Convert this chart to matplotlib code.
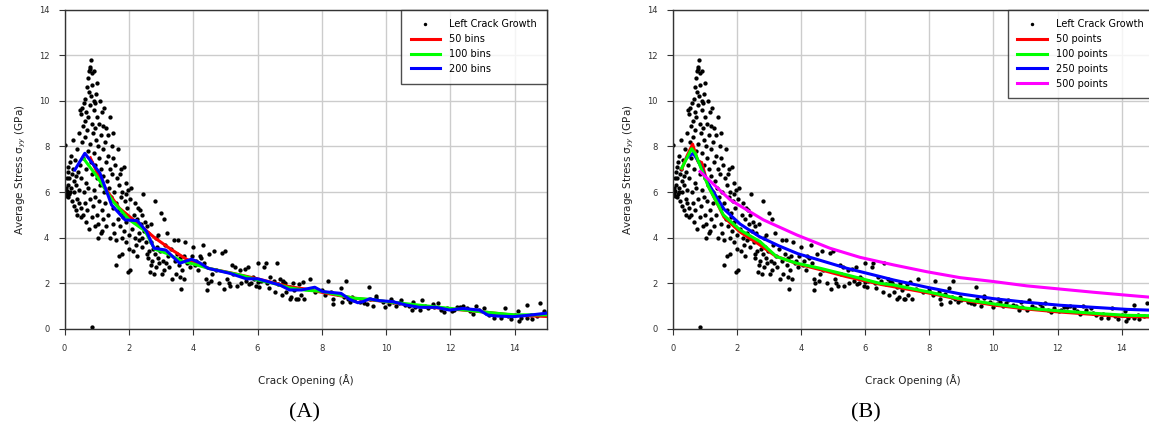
import numpy as np
import matplotlib
matplotlib.use("Agg")
import matplotlib.pyplot as plt

plt.rcParams['font.family'] = ['DejaVu Sans']

# left crack growth samples (crack opening, stress)
left_crack = [
    (0.02,8.05),(0.04,5.95),(0.06,6.05),(0.08,5.85),(0.1,6.3),(0.1,6.9),(0.12,7.1),(0.14,6.6),(0.15,5.9),
    (0.17,7.3),(0.2,6.2),(0.2,7.6),(0.22,6.8),(0.24,5.6),(0.25,8.3),(0.27,7.0),(0.28,6.5),(0.3,5.4),(0.3,6.0),
    (0.32,7.4),(0.34,6.7),(0.35,5.2),(0.36,6.3),(0.38,7.9),(0.4,5.0),(0.4,5.7),(0.42,6.9),(0.44,8.6),(0.45,5.5),
    (0.46,6.1),(0.48,9.6),(0.48,7.2),(0.5,4.9),(0.5,5.3),(0.5,6.6),(0.05,6.2),(0.12,5.8),(0.18,6.0),(0.08,6.6),
    (0.52,9.4),(0.54,8.2),(0.55,9.7),(0.56,7.5),(0.58,5.0),(0.58,8.9),(0.6,9.9),(0.6,6.0),(0.62,9.1),(0.62,5.5),
    (0.64,8.4),(0.65,10.1),(0.66,4.7),(0.66,7.0),(0.68,9.5),(0.68,6.4),(0.7,10.6),(0.7,8.7),(0.7,5.2),(0.72,11.0),
    (0.72,7.8),(0.74,9.3),(0.74,6.2),(0.75,11.3),(0.76,4.4),(0.76,10.4),(0.78,11.5),(0.78,8.1),(0.8,11.4),(0.8,9.8),
    (0.8,5.7),(0.82,11.8),(0.82,10.2),(0.82,7.3),(0.84,11.2),(0.84,9.0),(0.85,4.9),(0.86,10.7),(0.86,6.8),(0.88,8.6),
    (0.88,5.4),(0.9,11.3),(0.9,9.6),(0.9,7.7),(0.92,10.0),(0.92,6.1),(0.94,8.8),(0.94,4.5),(0.95,9.9),(0.96,7.2),
    (0.96,5.8),(0.98,10.3),(0.98,8.3),(1.0,9.3),(1.0,6.6),(1.0,5.0),(0.85,0.1),
    (1.02,10.8),(1.04,8.0),(1.05,4.6),(1.06,9.0),(1.08,7.5),(1.08,5.6),(1.1,10.0),(1.1,6.3),(1.12,8.5),(1.12,4.2),
    (1.14,7.0),(1.15,9.5),(1.16,5.2),(1.18,8.9),(1.18,6.7),(1.2,7.9),(1.2,4.8),(1.22,9.7),(1.24,6.0),(1.25,8.2),
    (1.26,5.5),(1.28,7.3),(1.3,8.8),(1.3,4.5),(1.32,6.5),(1.34,7.6),(1.35,5.0),(1.36,8.5),(1.38,6.2),(1.4,9.3),
    (1.4,7.0),(1.42,4.0),(1.44,5.8),(1.46,8.0),(1.48,6.8),(1.5,5.3),(1.5,7.5),(1.5,4.6),(1.05,4.0),(1.15,4.3),
    (1.52,8.6),(1.54,6.0),(1.55,4.2),(1.58,7.2),(1.6,5.5),(1.6,3.9),(1.62,6.6),(1.65,4.8),(1.66,7.9),(1.68,5.2),
    (1.7,6.3),(1.7,3.2),(1.72,4.5),(1.74,7.0),(1.75,5.8),(1.78,4.0),(1.8,6.0),(1.8,3.3),(1.82,5.1),(1.84,7.1),
    (1.85,4.3),(1.88,5.6),(1.9,6.4),(1.9,3.8),(1.92,4.7),(1.95,5.3),(1.96,2.5),(1.98,6.1),(2.0,4.1),(2.0,3.5),
    (1.6,2.8),(1.82,4.9),(1.72,6.8),(1.9,5.9),
    (2.02,5.7),(2.05,2.6),(2.08,6.2),(2.1,4.4),(2.12,3.4),(2.15,5.0),(2.18,4.0),(2.2,5.5),(2.22,3.7),(2.25,4.8),
    (2.28,5.3),(2.3,4.2),(2.32,3.9),(2.35,5.2),(2.38,4.6),(2.4,5.0),(2.42,3.6),(2.45,5.9),(2.48,4.3),(2.5,4.7),
    (2.52,3.8),(2.55,4.5),(2.58,3.1),(2.6,4.2),(2.62,3.4),(2.65,2.5),(2.68,3.8),(2.7,4.6),(2.72,3.0),(2.75,3.5),
    (2.78,2.4),(2.8,3.3),(2.82,5.6),(2.85,2.7),(2.88,3.6),(2.9,3.1),(2.92,4.1),(2.95,2.9),(2.98,3.4),(3.0,5.1),
    (2.25,3.2),(2.4,4.0),(2.55,3.3),(2.7,2.8),(2.85,4.0),
    (3.02,2.4),(3.05,3.0),(3.08,4.8),(3.1,2.6),(3.12,3.7),(3.15,2.9),(3.2,4.2),(3.22,3.2),(3.25,2.7),(3.3,3.5),
    (3.35,2.2),(3.4,3.9),(3.42,3.0),(3.45,2.4),(3.5,3.3),(3.52,3.9),(3.55,2.8),(3.58,2.3),(3.6,3.1),(3.62,1.75),
    (3.65,2.6),(3.7,3.2),(3.72,2.2),(3.75,3.8),(3.8,2.9),(3.85,3.0),(3.9,2.7),(3.95,3.2),(4.0,3.6),(4.05,2.8),
    (4.1,3.0),(4.15,2.6),(4.2,3.2),(4.25,3.1),(4.3,3.7),(4.35,2.9),(4.4,2.2),(4.42,1.7),(4.45,2.0),(4.5,3.3),
    (4.55,2.1),(4.6,2.4),
    (4.65,3.4),(4.7,2.6),(4.8,2.0),(4.9,3.35),(4.95,1.75),(5.0,3.4),(5.05,2.2),(5.1,2.0),(5.15,1.9),(5.2,2.8),
    (5.25,2.4),(5.3,2.7),(5.35,1.9),(5.45,2.6),(5.5,2.0),(5.6,2.65),(5.65,2.1),(5.7,2.7),(5.75,1.95),(5.8,2.0),
    (5.9,2.2),(5.95,1.9),(6.0,2.9),(6.05,1.85),(6.1,2.1),(6.2,2.7),(6.25,2.9),(6.3,2.0),(6.35,1.8),(6.4,2.3),
    (6.5,2.1),(6.55,1.6),(6.6,2.9),(6.65,1.95),(6.7,2.2),(6.75,1.5),(6.8,2.1),(6.85,2.0),(6.9,1.6),(7.0,1.85),
    (7.05,1.4),(7.1,2.0),(7.15,1.7),(7.2,1.3),(7.3,1.95),(7.35,1.5),(7.4,2.05),(7.45,1.3),(6.0,2.05),(5.85,2.3),
    (6.78,2.07),(7.0,1.3),(7.25,1.3),(7.64,2.19),(8.19,2.12),(8.34,1.32),(8.35,1.1),(8.74,2.1),(8.6,1.8),(8.64,1.17),
    (8.88,1.2),(8.95,1.4),(9.46,1.86),(9.4,1.1),(9.6,1.0),(9.7,1.45),(9.98,0.97),(10.15,1.3),(10.3,1.0),(10.45,1.25),
    (10.8,0.85),(10.85,1.2),(11.1,1.25),(11.05,0.83),(11.45,1.1),(11.6,1.12),(11.8,0.76),(12.05,0.8),(12.3,0.97),
    (12.4,1.0),(12.7,0.67),(12.8,1.0),(13.03,0.9),(13.36,0.5),(13.57,0.5),(13.7,0.9),(13.88,0.43),(14.1,0.8),
    (14.13,0.33),(14.37,1.05),(14.37,0.5),(14.55,0.43),(14.78,1.12),(14.9,0.78),
    (7.6,1.75),(7.8,1.6),(8.0,1.7),(8.1,1.5),(8.3,1.6),(8.5,1.55),(8.7,1.4),(8.8,1.3),(9.0,1.25),(9.2,1.2),
    (9.3,1.15),(9.5,1.3),(9.7,1.35),(9.9,1.2),(10.1,1.1),(10.2,1.2),(10.4,1.15),(10.6,1.05),(10.7,1.0),(10.9,0.95),
    (11.2,1.0),(11.3,0.9),(11.5,0.95),(11.7,0.85),(11.9,0.9),(12.1,0.85),(12.2,0.95),(12.5,0.9),(12.6,0.8),
    (12.9,0.85),(13.1,0.7),(13.2,0.6),(13.4,0.65),(13.6,0.6),(13.8,0.55),(14.0,0.6),(14.2,0.5),(14.5,0.6),
    (14.7,0.55),(14.95,0.65),
]
crack_x = [p[0] for p in left_crack]
crack_y = [p[1] for p in left_crack]

# (A) binned averages
bins50_x = [0.8, 1.2, 1.7, 2.3, 2.8, 3.3, 3.8, 4.5, 5.2, 6.0, 7.0, 7.5, 8.2, 9.0, 10.0, 11.0, 12.0, 13.0, 14.0, 15.0]
bins50_y = [7.5, 6.3, 5.3, 4.6, 4.0, 3.5, 3.05, 2.65, 2.45, 2.2, 1.85, 1.75, 1.55, 1.35, 1.2, 1.0, 0.88, 0.75, 0.6, 0.55]
bins100_x = [0.58, 1.0, 1.5, 2.0, 2.5, 2.8, 3.2, 3.6, 4.0, 4.5, 5.0, 5.5, 6.0, 6.5, 7.0, 7.5, 8.0, 8.5, 9.0,
             9.5, 10.0, 11.0, 12.0, 13.0, 13.5, 14.0, 15.0]
bins100_y = [7.49, 6.7, 5.6, 4.8, 4.3, 3.5, 3.3, 3.0, 2.85, 2.65, 2.5, 2.35, 2.15, 2.0, 1.8, 1.7, 1.65, 1.5, 1.35,
             1.3, 1.2, 1.05, 0.9, 0.75, 0.68, 0.62, 0.62]
bins200_x = [0.32, 0.63, 1.1, 1.46, 1.88, 2.26, 2.55, 2.78, 3.15, 3.58, 3.95, 4.2, 4.46, 5.14, 5.65, 6.0, 6.69,
             7.0, 7.36, 7.78, 8.03, 8.6, 8.86, 9.12, 9.28, 9.48, 9.8, 10.2, 10.62, 11.03, 11.55, 11.97, 12.38,
             12.9, 13.16, 13.42, 13.94, 14.35, 14.97]
bins200_y = [6.97, 7.7, 6.83, 5.44, 4.78, 4.75, 4.27, 3.54, 3.46, 2.88, 3.06, 2.9, 2.66, 2.44, 2.2, 2.2, 1.93,
             1.71, 1.71, 1.83, 1.64, 1.56, 1.3, 1.15, 1.2, 1.32, 1.24, 1.2, 1.05, 0.95, 0.95, 0.83, 0.9,
             0.83, 0.61, 0.57, 0.54, 0.59, 0.69]

# (B) smoothed curves
pts50_x = [0.28, 0.45, 0.62, 0.78, 0.9, 1.1, 1.6, 2.1, 2.7, 3.2, 3.9, 4.6, 5.4, 6.5, 7.9, 9.0, 10.0, 11.0, 12.0, 13.0, 14.0, 15.0]
pts50_y = [7.0, 7.6, 8.1, 7.35, 7.3, 6.3, 4.9, 4.25, 3.7, 3.2, 2.85, 2.6, 2.3, 1.95, 1.6, 1.28, 1.05, 0.88, 0.75, 0.65, 0.55, 0.52]
pts100_x = [0.28, 0.59, 0.7, 1.11, 1.58, 2.1, 2.72, 3.24, 3.87, 4.6, 5.43, 6.46, 6.88, 7.92, 8.96, 10.0, 11.04,
            12.08, 13.12, 14.15, 15.0]
pts100_y = [7.05, 7.9, 7.7, 6.24, 5.0, 4.34, 3.83, 3.17, 2.88, 2.66, 2.37, 2.0, 1.93, 1.64, 1.32, 1.1, 0.91,
            0.79, 0.69, 0.6, 0.58]
pts250_x = [0.44, 0.64, 0.8, 1.1, 1.6, 2.1, 2.7, 3.3, 3.9, 4.38, 5.43, 6.46, 6.88, 7.92, 8.96, 10.0, 11.04,
            12.08, 13.12, 14.16, 15.0]
pts250_y = [7.5, 7.7, 7.35, 6.4, 5.25, 4.6, 4.05, 3.65, 3.3, 3.1, 2.66, 2.3, 2.15, 1.83, 1.54, 1.33, 1.17,
            1.04, 0.95, 0.86, 0.82]
pts500_x = [0.85, 1.79, 2.83, 3.87, 4.9, 5.84, 6.88, 7.92, 8.96, 10.0, 11.04, 12.08, 13.12, 14.16, 15.0]
pts500_y = [6.9, 5.66, 4.78, 4.12, 3.54, 3.14, 2.81, 2.51, 2.25, 2.08, 1.89, 1.75, 1.61, 1.48, 1.38]


def setup(ax):
    ax.set_xlim(0, 15)
    ax.set_ylim(0, 14)
    ax.set_xticks(range(0, 15, 2))
    ax.set_yticks(range(0, 15, 2))
    ax.grid(True, color='#cccccc', lw=1.0)
    ax.set_axisbelow(True)
    ax.tick_params(direction='out', length=4, width=0.8, colors='#333333', labelsize=6, pad=7,
                   top=False, right=False)
    for s in ax.spines.values():
        s.set_color('#333333')
        s.set_linewidth(1.0)
    ax.set_xlabel('Crack Opening (Å)', fontsize=7.5, labelpad=15, color='#222222')
    ax.set_ylabel('Average Stress σ$_{yy}$ (GPa)', fontsize=7.5, labelpad=8, color='#222222')


fig = plt.figure(figsize=(11.49, 4.33), dpi=100)
axA = fig.add_axes([0.0562, 0.2402, 0.4198, 0.7378])
axB = fig.add_axes([0.5855, 0.2402, 0.4187, 0.7378])

for ax in (axA, axB):
    setup(ax)
    ax.plot(crack_x, crack_y, 'o', color='black', ms=3.1, mew=0, label='Left Crack Growth', zorder=2)

axA.plot(bins50_x, bins50_y, color='#ff0000', lw=2.2, label='50 bins', zorder=3)
axA.plot(bins100_x, bins100_y, color='#00ff00', lw=2.2, label='100 bins', zorder=4)
axA.plot(bins200_x, bins200_y, color='#0000ff', lw=2.2, label='200 bins', zorder=5)

axB.plot(pts50_x, pts50_y, color='#ff0000', lw=2.2, label='50 points', zorder=3)
axB.plot(pts100_x, pts100_y, color='#00ff00', lw=2.2, label='100 points', zorder=5)
axB.plot(pts250_x, pts250_y, color='#0000ff', lw=2.2, label='250 points', zorder=4)
axB.plot(pts500_x, pts500_y, color='#ff00ff', lw=2.2, label='500 points', zorder=6)

for ax in (axA, axB):
    leg = ax.legend(loc='upper right', fontsize=7, frameon=True, fancybox=False, borderaxespad=0,
                    handlelength=3.0, handletextpad=1.0, labelspacing=0.5, borderpad=1.0,
                    markerscale=0.8)
    leg.get_frame().set_edgecolor('#222222')
    leg.get_frame().set_linewidth(1.0)

fig.text(0.2654, 0.047, '(A)', family=['Liberation Serif'], fontsize=16, ha='center', va='center')
fig.text(0.7537, 0.047, '(B)', family=['Liberation Serif'], fontsize=16, ha='center', va='center')

fig.savefig('out.png', dpi=100)
